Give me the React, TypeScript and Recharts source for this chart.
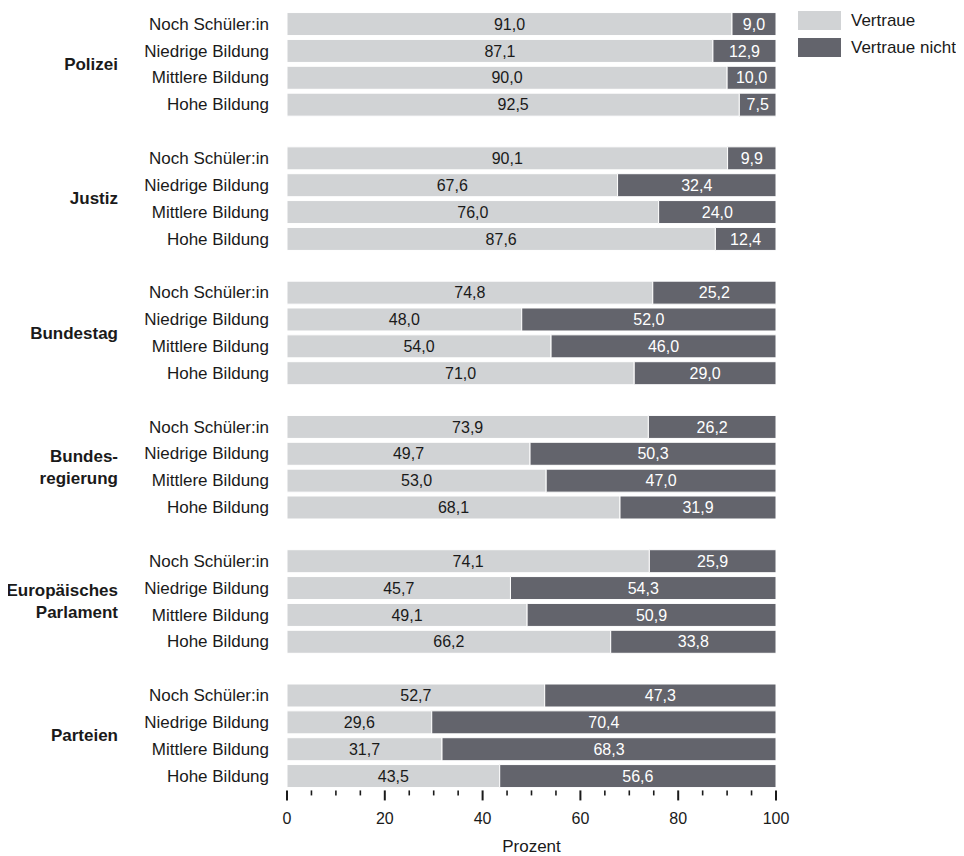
import React from 'react';
import { BarChart, Bar, XAxis, YAxis, Legend, LabelList } from 'recharts';

const groups = ['Polizei', 'Justiz', 'Bundestag', 'Bundes-\nregierung', 'Europäisches\nParlament', 'Parteien'];
const subgroups = ['Noch Schüler:in', 'Niedrige Bildung', 'Mittlere Bildung', 'Hohe Bildung'];

const vertraue = [
  [91.0, 87.1, 90.0, 92.5],
  [90.1, 67.6, 76.0, 87.6],
  [74.8, 48.0, 54.0, 71.0],
  [73.9, 49.7, 53.0, 68.1],
  [74.1, 45.7, 49.1, 66.2],
  [52.7, 29.6, 31.7, 43.5],
];
const vertraueNicht = [
  [9.0, 12.9, 10.0, 7.5],
  [9.9, 32.4, 24.0, 12.4],
  [25.2, 52.0, 46.0, 29.0],
  [26.2, 50.3, 47.0, 31.9],
  [25.9, 54.3, 50.9, 33.8],
  [47.3, 70.4, 68.3, 56.6],
];

const xTicks = [0, 5, 10, 15, 20, 25, 30, 35, 40, 45, 50, 55, 60, 65, 70, 75, 80, 85, 90, 95, 100];
const xTickLabels = [0, 20, 40, 60, 80, 100];

const LIGHT = '#d1d3d5';
const DARK = '#63646c';
const TEXT = '#1a1a1a';
const FONT = '"Liberation Sans", Arial, Helvetica, sans-serif';

type Row = {
  key: string;
  sub: string;
  group: string;
  idx: number;
  vertraue: number | null;
  nicht: number | null;
};

const rows: Row[] = [];
groups.forEach((g, gi) => {
  subgroups.forEach((s, si) => {
    rows.push({ key: `${gi}-${si}`, sub: s, group: g, idx: si, vertraue: vertraue[gi][si], nicht: vertraueNicht[gi][si] });
  });
  if (gi < groups.length - 1) {
    rows.push({ key: `gap-${gi}`, sub: '', group: g, idx: -1, vertraue: null, nicht: null });
  }
});

const STEP = 26.86;

const YTick = (props: any) => {
  const { x, y, payload } = props;
  const row = rows.find((r) => r.key === payload.value);
  if (!row || row.idx < 0) return <g />;
  const lines = row.group.split('\n');
  const cy = y + STEP / 2;
  return (
    <g>
      <text x={x - 18} y={y} dy="0.34em" textAnchor="end" fontSize={17} fill={TEXT} fontFamily={FONT}>
        {row.sub}
      </text>
      {row.idx === 1 &&
        lines.map((l, i) => (
          <text
            key={i}
            x={x - 169}
            y={cy + (i - (lines.length - 1) / 2) * 22}
            dy="0.34em"
            textAnchor="end"
            fontSize={17}
            fontWeight="bold"
            fill={TEXT}
            fontFamily={FONT}
          >
            {l}
          </text>
        ))}
    </g>
  );
};

const XTick = (props: any) => {
  const { x, y, payload } = props;
  const v = payload.value;
  const major = xTickLabels.includes(v);
  return (
    <g>
      <line x1={x} x2={x} y1={y + 1} y2={y + (major ? 11 : 6)} stroke={TEXT} strokeWidth={major ? 2 : 1.6} />
      {major && (
        <text x={x} y={y + 28.6} dy="0.35em" textAnchor="middle" fontSize={16} fill={TEXT} fontFamily={FONT}>
          {v}
        </text>
      )}
    </g>
  );
};

const AxisTitle = (props: any) => {
  const vb = props.viewBox || { x: 0, y: 0, width: 0, height: 0 };
  return (
    <text x={vb.x + vb.width / 2} y={vb.y + 56.6} dy="0.35em" textAnchor="middle" fontSize={17} fill={TEXT} fontFamily={FONT}>
      Prozent
    </text>
  );
};

const LegendContent = (props: any) => {
  const payload = props.payload || [];
  return (
    <div style={{ display: 'flex', flexDirection: 'column', fontFamily: FONT }}>
      {payload.map((p: any, i: number) => (
        <div key={i} style={{ display: 'flex', alignItems: 'center', height: 19, marginBottom: 8 }}>
          <div style={{ width: 43, height: 19, background: p.color }} />
          <span style={{ marginLeft: 10, fontSize: 17, color: TEXT, lineHeight: '19px' }}>{p.value}</span>
        </div>
      ))}
    </div>
  );
};

const fmt = (v: any) => (v === null || v === undefined ? '' : Number(v).toFixed(1).replace('.', ','));

export default function App() {
  return (
    <div style={{ width: 948, height: 848, fontFamily: FONT }}>
      <BarChart
        width={948}
        height={848}
        data={rows}
        layout="vertical"
        margin={{ top: 2.57, right: 180, bottom: 6.57, left: 0 }}
        barCategoryGap={0}
      >
        <XAxis
          type="number"
          domain={[0, 100]}
          allowDataOverflow
          ticks={xTicks}
          interval={0}
          axisLine={false}
          tickLine={false}
          tickSize={0}
          tickMargin={0}
          height={60}
          tick={<XTick />}
          label={<AxisTitle />}
        />
        <YAxis
          type="category"
          dataKey="key"
          width={279}
          axisLine={false}
          tickLine={false}
          tickSize={0}
          tickMargin={0}
          interval={0}
          tick={<YTick />}
        />
        <Legend
          layout="vertical"
          align="center"
          verticalAlign="middle"
          wrapperStyle={{ left: 790, top: 3, width: 170 }}
          content={<LegendContent />}
        />
        <Bar dataKey="vertraue" name="Vertraue" stackId="a" fill={LIGHT} stroke="#ffffff" strokeWidth={1} barSize={23} isAnimationActive={false}>
          <LabelList dataKey="vertraue" position="center" formatter={fmt} fill={TEXT} stroke="none" fontSize={16} fontFamily={FONT} />
        </Bar>
        <Bar dataKey="nicht" name="Vertraue nicht" stackId="a" fill={DARK} stroke="#ffffff" strokeWidth={1} barSize={23} isAnimationActive={false}>
          <LabelList dataKey="nicht" position="center" formatter={fmt} fill="#ffffff" stroke="none" fontSize={16} fontFamily={FONT} />
        </Bar>
      </BarChart>
    </div>
  );
}
